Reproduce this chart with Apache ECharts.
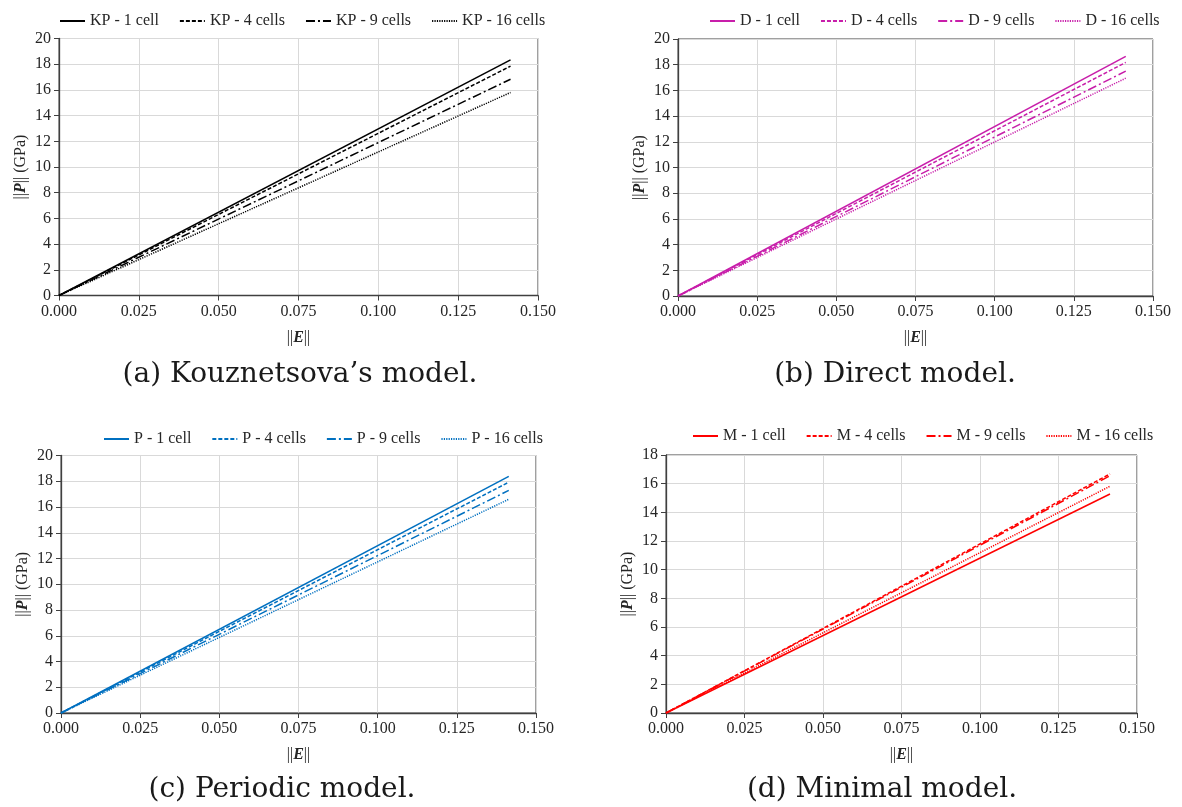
<!DOCTYPE html>
<html><head><meta charset="utf-8">
<script src="https://cdn.jsdelivr.net/npm/echarts@6/dist/echarts.min.js"></script>
<style>html,body{margin:0;padding:0;background:#fff}#c{width:1182px;height:807px}</style>
</head><body><div id="c"></div>
<script>
// ---- data ----
const strain = [0, 0.1414];
const kpNames = ['KP - 1 cell', 'KP - 4 cells', 'KP - 9 cells', 'KP - 16 cells'];
const kp1 = [0, 18.33], kp4 = [0, 17.85], kp9 = [0, 16.83], kp16 = [0, 15.80];
const dNames = ['D - 1 cell', 'D - 4 cells', 'D - 9 cells', 'D - 16 cells'];
const d1 = [0, 18.65], d4 = [0, 18.18], d9 = [0, 17.50], d16 = [0, 16.95];
const pNames = ['P - 1 cell', 'P - 4 cells', 'P - 9 cells', 'P - 16 cells'];
const p1 = [0, 18.38], p4 = [0, 17.93], p9 = [0, 17.29], p16 = [0, 16.60];
const mNames = ['M - 1 cell', 'M - 4 cells', 'M - 9 cells', 'M - 16 cells'];
const m1 = [0, 15.28], m4 = [0, 16.68], m9 = [0, 16.55], m16 = [0, 15.82];
const xTicks = { min: 0, max: 0.15, interval: 0.025 };
const yMaxes = [20, 20, 20, 18];
const captions = ['(a) Kouznetsova\u2019s model.', '(b) Direct model.', '(c) Periodic model.', '(d) Minimal model.'];

// ---- layout ----
const panels = [
  { grid: { left: 59, top: 38.5, width: 479, height: 257 }, color: '#000000', names: kpNames, ys: [kp1, kp4, kp9, kp16], legend: { left: 54, top: 8 }, cap: { x: 300, y: 375 } },
  { grid: { left: 678, top: 39, width: 475, height: 257 }, color: '#C81EAA', names: dNames, ys: [d1, d4, d9, d16], legend: { left: 704, top: 8 }, cap: { x: 895, y: 375 } },
  { grid: { left: 61, top: 455.5, width: 475, height: 257.5 }, color: '#0070C0', names: pNames, ys: [p1, p4, p9, p16], legend: { left: 98, top: 426 }, cap: { x: 282, y: 790 } },
  { grid: { left: 666, top: 455, width: 471, height: 258 }, color: '#FF0000', names: mNames, ys: [m1, m4, m9, m16], legend: { left: 687, top: 423 }, cap: { x: 882, y: 790 } }
];
const dashes = ['solid', [4, 2], [9, 3, 2, 3], [1.2, 1.2]];
const serif = '"Liberation Serif", "Times New Roman", serif';
const txt = '#262626';

const grids = [], xAxes = [], yAxes = [], series = [], legends = [], graphics = [];
const richName = { a: { fontFamily: serif, fontSize: 16, color: txt }, b: { fontFamily: serif, fontSize: 16, fontWeight: 'bold', fontStyle: 'italic', color: txt } };
panels.forEach((p, i) => {
  grids.push(Object.assign({ show: true, borderColor: '#404040', borderWidth: 1, containLabel: false }, p.grid));
  xAxes.push({
    type: 'value', gridIndex: i, min: xTicks.min, max: xTicks.max, interval: xTicks.interval,
    axisLine: { show: true, lineStyle: { color: '#404040', width: 1.3 } },
    axisTick: { show: true, length: 5, lineStyle: { color: '#404040' } },
    axisLabel: { color: txt, fontFamily: serif, fontSize: 16, margin: 8, formatter: v => v.toFixed(3) },
    splitLine: { show: true, lineStyle: { color: '#d9d9d9', width: 1 } },
    name: '{a|||}{b|E}{a|||}', nameLocation: 'middle', nameGap: 34,
    nameTextStyle: { rich: richName }
  });
  yAxes.push({
    type: 'value', gridIndex: i, min: 0, max: yMaxes[i], interval: 2,
    axisLine: { show: true, lineStyle: { color: '#404040', width: 1.3 } },
    axisTick: { show: true, length: 5, lineStyle: { color: '#404040' } },
    axisLabel: { color: txt, fontFamily: serif, fontSize: 16, margin: 8 },
    splitLine: { show: true, lineStyle: { color: '#d9d9d9', width: 1 } },
    name: '{a|||}{b|P}{a||| (GPa)}', nameLocation: 'middle', nameGap: 30, nameRotate: 90,
    nameTextStyle: { rich: richName }
  });
  p.names.forEach((n, k) => {
    series.push({
      type: 'line', name: n, xAxisIndex: i, yAxisIndex: i,
      data: strain.map((x, j) => [x, p.ys[k][j]]),
      showSymbol: false, symbol: 'none', animation: false,
      lineStyle: { color: p.color, width: 1.5, type: dashes[k] },
      itemStyle: { color: p.color }
    });
  });
  legends.push({
    data: p.names, left: p.legend.left, top: p.legend.top, itemWidth: 25, itemHeight: 12, itemGap: 20,
    itemStyle: { opacity: 0 },
    textStyle: { fontFamily: serif, fontSize: 16, color: txt }
  });
  graphics.push({
    type: 'text', x: p.cap.x, y: p.cap.y,
    style: { text: captions[i], font: '28px "DejaVu Serif", serif', fill: '#1a1a1a', textAlign: 'center', textVerticalAlign: 'middle' }
  });
});

const chart = echarts.init(document.getElementById('c'));
chart.setOption({
  animation: false,
  grid: grids, xAxis: xAxes, yAxis: yAxes, series: series, legend: legends,
  graphic: graphics
});
</script></body></html>
